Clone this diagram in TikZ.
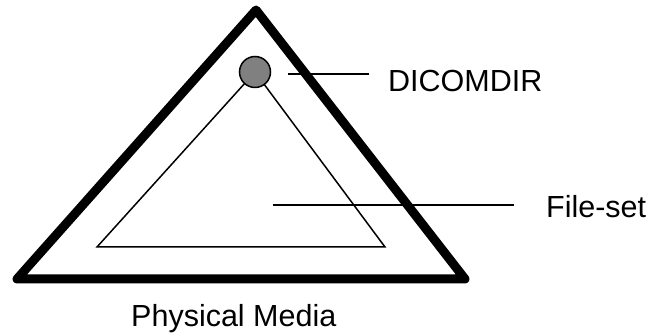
\documentclass[tikz,border=0pt]{standalone}
\usepackage{fontspec}
\setmainfont{Liberation Sans}
\begin{document}
\begin{tikzpicture}[x=1pt,y=-1pt,
  outer/.style={line width=9pt, line join=round, line cap=round},
  inner/.style={line width=1.5pt, line join=miter},
  leader/.style={line width=2pt},
  lbl/.style={font=\fontsize{30.5}{36}\selectfont, inner sep=0pt, anchor=base west},
  dot/.style={circle, draw, line width=1.5pt, fill=black!50, minimum size=31pt, inner sep=0pt}]
\useasboundingbox (0,0) rectangle (654,336);
% outer triangle (physical media)
\coordinate (A) at (256,10);
\coordinate (B) at (17,279);
\coordinate (C) at (465,279);
\draw[outer] (A) -- (B) -- (C) -- cycle;
% inner triangle (file-set)
\coordinate (IA) at (255,72);
\coordinate (IB) at (97,247);
\coordinate (IC) at (385,247);
\draw[inner] (IA) -- (IB) -- (IC) -- cycle;
% DICOMDIR circle
\node[dot] (dir) at (IA) {};
% labels
\node[lbl] (dicomdir) at (388,92) {DICOMDIR};
\node[lbl] (fileset) at (546,218) {File-set};
\node[lbl] (media) at (131,327) {Physical Media};
% leader lines
\coordinate (d1) at (288,74);
\coordinate (d2) at (369,74);
\draw[leader] (d1) -- (d2);
\coordinate (f1) at (273,205);
\coordinate (f2) at (514,205);
\draw[leader] (f1) -- (f2);
\end{tikzpicture}
\end{document}
